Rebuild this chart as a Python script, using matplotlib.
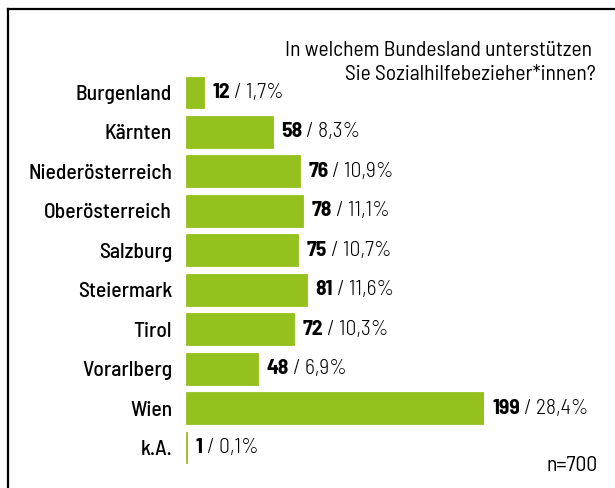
import matplotlib
matplotlib.use("Agg")
import matplotlib.pyplot as plt
from matplotlib.lines import Line2D

plt.rcParams['font.family'] = ['Barlow Semi Condensed', 'DejaVu Sans']

regions = ["Burgenland", "Kärnten", "Niederösterreich", "Oberösterreich", "Salzburg",
           "Steiermark", "Tirol", "Vorarlberg", "Wien", "k.A."]
counts = [12, 58, 76, 78, 75, 81, 72, 48, 199, 1]
shares = ["1,7%", "8,3%", "10,9%", "11,1%", "10,7%", "11,6%", "10,3%", "6,9%", "28,4%", "0,1%"]
title = "In welchem Bundesland unterstützen \nSie Sozialhilfebezieher*innen?"
n_note = "n=700"

green = "#95c11f"
fs = 15.5

fig = plt.figure(figsize=(6.15, 4.88), dpi=100)
fig.patch.set_facecolor("white")

# axes placed so bars line up with the reference (px -> fig fraction)
ax = fig.add_axes([186 / 615, 20.8 / 488, 298 / 615, 394.4 / 488])
ypos = list(range(len(regions)))
ax.barh(ypos, counts, height=0.81, color=green, edgecolor=green, linewidth=0.6)
ax.set_xlim(0, 199)
ax.set_ylim(9.5, -0.5)
ax.set_yticks(ypos)
ax.set_yticklabels(regions, fontsize=fs, fontweight=500)
ax.tick_params(axis="y", length=0, pad=10)
ax.set_xticks([])
for s in ax.spines.values():
    s.set_visible(False)

for y, c, p in zip(ypos, counts, shares):
    t1 = ax.annotate(str(c), xy=(c, y), xytext=(6, 0), textcoords="offset points",
                     ha="left", va="center", fontsize=fs, fontweight="bold")
    ax.annotate(" / " + p, xy=(1, 0), xycoords=t1, ha="left", va="bottom",
                fontsize=fs, fontweight=300, color="black")

fig.text(596 / 615, 1 - 80 / 488, title, ha="right", va="baseline",
         multialignment="right", fontsize=fs, linespacing=1.32)
fig.text(598 / 615, 1 - 471 / 488, n_note, ha="right", va="baseline", fontsize=fs)

# frame lines (top and left only visible in the crop)
fig.add_artist(Line2D([7.5 / 615, 7.5 / 615], [0, 1 - 8.5 / 488],
                      transform=fig.transFigure, color="black", lw=1.6))
fig.add_artist(Line2D([7.5 / 615, 1], [1 - 8.5 / 488, 1 - 8.5 / 488],
                      transform=fig.transFigure, color="black", lw=1.6))

fig.savefig("out.png", dpi=100)
